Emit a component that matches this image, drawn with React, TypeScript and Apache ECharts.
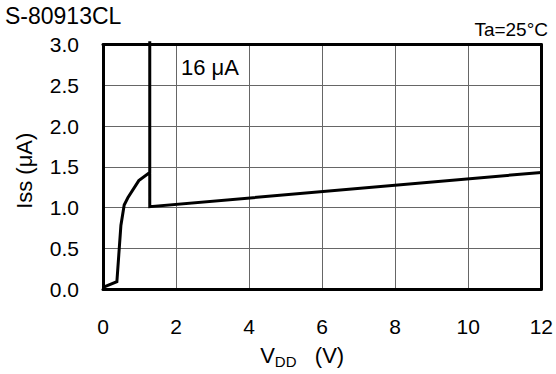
import React, { useEffect, useRef } from "react";
import * as echarts from "echarts";

const vdd = [0, 0.38, 0.49, 0.58, 0.68, 0.98, 1.28, 1.28, 1.28, 12];
const iss = [0.02, 0.09, 0.78, 1.03, 1.12, 1.33, 1.43, 3.04, 1.01, 1.43];
const xTicks = { min: 0, max: 12, interval: 2 };
const yTicks = { min: 0, max: 3, interval: 0.5 };
const title = "S-80913CL";
const condition = "Ta=25°C";
const annotation = "16 μA";

const FONT = "Liberation Sans, Arial, sans-serif";

export default function App() {
  const ref = useRef<HTMLDivElement>(null);
  useEffect(() => {
    const chart = echarts.init(ref.current!, null, { renderer: "svg" });
    const data = vdd.map((x, i) => [x, iss[i]]);
    chart.setOption({
      animation: false,
      backgroundColor: "#fff",
      textStyle: { fontFamily: FONT },
      grid: { left: 103, right: 14.5, top: 44.5, bottom: 80 },
      xAxis: [
        {
          type: "value",
          ...xTicks,
          axisLine: { show: true, onZero: false, lineStyle: { color: "#000", width: 3 } },
          axisTick: { show: false },
          axisLabel: { fontSize: 21, color: "#000", margin: 27, fontFamily: FONT },
          splitLine: { show: true, showMinLine: false, showMaxLine: false, lineStyle: { color: "#666", width: 1 } },
          name: "{v|V}{s|DD}{v|   (V)}",
          nameLocation: "middle",
          nameGap: 52,
          nameTextStyle: {
            color: "#000",
            fontFamily: FONT,
            padding: [0, 40, 0, 0],
            rich: {
              v: { fontSize: 22, lineHeight: 28, color: "#000", fontFamily: FONT },
              s: { fontSize: 15, lineHeight: 14, verticalAlign: "bottom", color: "#000", fontFamily: FONT },
            },
          },
        },
        {
          type: "value",
          position: "top",
          ...xTicks,
          axisLine: { show: true, onZero: false, lineStyle: { color: "#000", width: 3 } },
          axisTick: { show: false },
          axisLabel: { show: false },
          splitLine: { show: false },
        },
      ],
      yAxis: [
        {
          type: "value",
          ...yTicks,
          axisLine: { show: true, onZero: false, lineStyle: { color: "#000", width: 3 } },
          axisTick: { show: false },
          axisLabel: {
            fontSize: 21,
            color: "#000",
            margin: 24,
            fontFamily: FONT,
            formatter: (v: number) => v.toFixed(1),
          },
          splitLine: { show: true, showMinLine: false, showMaxLine: false, lineStyle: { color: "#666", width: 1 } },
          name: "Iss (μA)",
          nameLocation: "middle",
          nameGap: 68,
          nameTextStyle: { fontSize: 22, color: "#000", fontFamily: FONT, padding: [0, 8, 0, 0] },
        },
        {
          type: "value",
          position: "right",
          ...yTicks,
          axisLine: { show: true, onZero: false, lineStyle: { color: "#000", width: 3 } },
          axisTick: { show: false },
          axisLabel: { show: false },
          splitLine: { show: false },
        },
      ],
      graphic: [
        {
          type: "text",
          left: 5,
          top: 4,
          style: { text: title, fontSize: 23, fill: "#000", fontFamily: FONT },
        },
        {
          type: "text",
          right: 8,
          top: 20,
          style: { text: condition, fontSize: 19, fill: "#000", fontFamily: FONT },
        },
        {
          type: "text",
          left: 181,
          top: 56,
          z: 10,
          style: { text: annotation, fontSize: 22, fill: "#000", fontFamily: FONT },
        },
      ],
      series: [
        {
          type: "line",
          data,
          showSymbol: false,
          clip: false,
          z: 5,
          lineStyle: { color: "#000", width: 3, join: "miter" },
        },
      ],
    });
    return () => chart.dispose();
  }, []);
  return (
    <div
      ref={ref}
      style={{ position: "fixed", left: 0, top: 0, width: 556, height: 374, background: "#fff" }}
    />
  );
}
